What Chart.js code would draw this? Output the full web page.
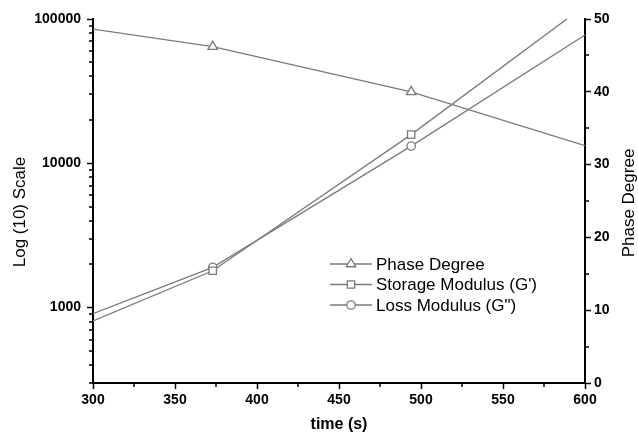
<!DOCTYPE html>
<html>
<head>
<meta charset="utf-8">
<script src="https://cdn.jsdelivr.net/npm/chart.js@4"></script>
<style>
  html, body { margin: 0; padding: 0; background: #fff; }
</style>
</head>
<body>
<canvas id="graphic" width="638" height="435"></canvas>
<script>
// ==========================================================================
// DATA
// ==========================================================================
const times = [300, 373, 494, 600];
const phaseDegree = [48.6, 46.2, 40.0, 32.6];
const storageModulus = [807, 1800, 15800, 124000];
const lossModulus = [908, 1900, 13150, 77400];
const seriesNames = ['Phase Degree', "Storage Modulus (G')", 'Loss Modulus (G")'];
const timeTicks = [300, 350, 400, 450, 500, 550, 600];
const logTicks = [1000, 10000, 100000];
const phaseTicks = [0, 10, 20, 30, 40, 50];

const FONT = 'Liberation Sans, Arial, Helvetica, sans-serif';
const GREY = '#7a7a7a';

// markers only on the measured points, not on the line ends
const markerSize = r => c => (c.dataIndex === 0 || c.dataIndex === times.length - 1) ? 0 : r;

// ==========================================================================
// PLUGINS
// ==========================================================================
// short minor ticks between the major ones
const minorTicks = {
  id: 'minorTicks',
  afterDraw(chart) {
    const {ctx, scales} = chart;
    ctx.save();
    ctx.strokeStyle = '#000';
    ctx.lineWidth = 1.5;
    const len = 4;

    const x = scales.x;
    for (let i = 0; i < timeTicks.length - 1; i++) {
      const px = Math.round(x.getPixelForValue((timeTicks[i] + timeTicks[i + 1]) / 2));
      ctx.beginPath(); ctx.moveTo(px, x.top); ctx.lineTo(px, x.top + len); ctx.stroke();
    }

    const y = scales.y;
    for (let d = 100; d <= 10000; d *= 10) {
      for (let m = 2; m <= 9; m++) {
        const v = m * d;
        if (v < y.min || v > y.max) continue;
        const py = Math.round(y.getPixelForValue(v));
        ctx.beginPath(); ctx.moveTo(y.right, py); ctx.lineTo(y.right - len, py); ctx.stroke();
      }
    }

    const y1 = scales.y1;
    for (let i = 0; i < phaseTicks.length - 1; i++) {
      const py = Math.round(y1.getPixelForValue((phaseTicks[i] + phaseTicks[i + 1]) / 2));
      ctx.beginPath(); ctx.moveTo(y1.left, py); ctx.lineTo(y1.left + len, py); ctx.stroke();
    }
    ctx.restore();
  }
};

// both vertical titles read bottom to top
const sideTitles = {
  id: 'sideTitles',
  afterDraw(chart) {
    const {ctx, chartArea} = chart;
    const mid = (chartArea.top + chartArea.bottom) / 2;
    const draw = (text, x, y) => {
      ctx.save();
      ctx.translate(x, y);
      ctx.rotate(-Math.PI / 2);
      ctx.font = '17px ' + FONT;
      ctx.fillStyle = '#000';
      ctx.textAlign = 'center';
      ctx.textBaseline = 'middle';
      ctx.fillText(text, 0, 0);
      ctx.restore();
    };
    draw('Log (10) Scale', 20, mid + 11);
    draw('Phase Degree', 629, mid + 2);
  }
};

// legend inside the plot: —marker— label
const innerLegend = {
  id: 'innerLegend',
  afterDraw(chart) {
    const {ctx} = chart;
    const rows = [264, 284.5, 305];
    ctx.save();
    chart.data.datasets.forEach((ds, i) => {
      const yy = rows[i];
      ctx.strokeStyle = GREY;
      ctx.lineWidth = 1.3;
      ctx.beginPath(); ctx.moveTo(330, yy); ctx.lineTo(372, yy); ctx.stroke();
      ctx.fillStyle = '#fff';
      ctx.strokeStyle = GREY;
      Chart.helpers.drawPoint(ctx, {
        pointStyle: ds.pointStyle,
        radius: ds.legendRadius,
        rotation: 0,
        borderWidth: 1.3
      }, 351, yy);
      ctx.fillStyle = '#000';
      ctx.font = '17px ' + FONT;
      ctx.textAlign = 'left';
      ctx.textBaseline = 'middle';
      ctx.fillText(ds.label, 376, yy + 1);
    });
    ctx.restore();
  }
};

// ==========================================================================
// GRAPHIC
// ==========================================================================
const tickFont = { family: FONT, size: 14, weight: 'bold' };
const axisGrid = {
  display: true,
  drawOnChartArea: false,
  drawTicks: true,
  tickLength: 6,
  tickWidth: 1.5,
  tickColor: '#000'
};
const axisBorder = { display: true, color: '#000', width: 2 };

let ctx = document.getElementById('graphic').getContext('2d');
let myChart = new Chart(ctx, {
  type: 'line',
  data: {
    datasets: [
      {
        label: seriesNames[0],
        data: times.map((t, i) => ({ x: t, y: phaseDegree[i] })),
        yAxisID: 'y1',
        pointStyle: 'triangle',
        legendRadius: 5.5,
        pointRadius: markerSize(5.5)
      },
      {
        label: seriesNames[1],
        data: times.map((t, i) => ({ x: t, y: storageModulus[i] })),
        yAxisID: 'y',
        pointStyle: 'rect',
        legendRadius: 5.2,
        pointRadius: markerSize(5.2)
      },
      {
        label: seriesNames[2],
        data: times.map((t, i) => ({ x: t, y: lossModulus[i] })),
        yAxisID: 'y',
        pointStyle: 'circle',
        legendRadius: 4.2,
        pointRadius: markerSize(4.2)
      }
    ]
  },
  options: {
    responsive: false,
    animation: false,
    devicePixelRatio: 1,
    layout: { padding: { top: 19, left: 0, right: 0, bottom: 0 } },
    elements: {
      line: { borderColor: GREY, borderWidth: 1.3, tension: 0 },
      point: { backgroundColor: '#fff', borderColor: GREY, borderWidth: 1.3, hoverRadius: 0 }
    },
    plugins: {
      legend: { display: false },
      tooltip: { enabled: false }
    },
    scales: {
      x: {
        type: 'linear',
        min: 300,
        max: 600,
        afterBuildTicks: s => { s.ticks = timeTicks.map(v => ({ value: v })); },
        afterFit: s => { s.height = 52; },
        ticks: { font: tickFont, color: '#000', padding: 3, maxRotation: 0 },
        grid: axisGrid,
        border: axisBorder,
        title: {
          display: true,
          text: 'time (s)',
          color: '#000',
          font: { family: FONT, size: 16, weight: 'bold' },
          padding: { top: 2, bottom: 1 }
        }
      },
      y: {
        type: 'logarithmic',
        position: 'left',
        min: 300,
        max: 100000,
        afterBuildTicks: s => { s.ticks = logTicks.map(v => ({ value: v })); },
        afterFit: s => { s.width = 93; },
        ticks: { font: tickFont, color: '#000', padding: 6, callback: v => String(v) },
        grid: axisGrid,
        border: axisBorder
      },
      y1: {
        type: 'linear',
        position: 'right',
        min: 0,
        max: 50,
        afterBuildTicks: s => { s.ticks = phaseTicks.map(v => ({ value: v })); },
        afterFit: s => { s.width = 53; },
        ticks: { font: tickFont, color: '#000', padding: 3 },
        grid: axisGrid,
        border: axisBorder
      }
    }
  },
  plugins: [minorTicks, sideTitles, innerLegend]
});
</script>
</body>
</html>
